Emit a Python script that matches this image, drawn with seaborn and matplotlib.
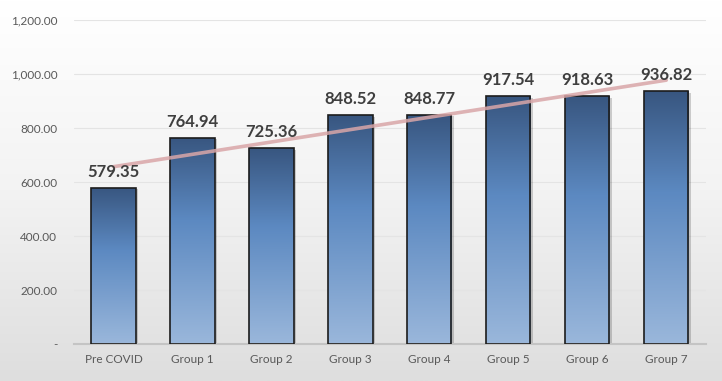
import numpy as np
import pandas as pd
import matplotlib.pyplot as plt
import matplotlib.transforms as mtransforms
from matplotlib.patches import Rectangle
from matplotlib.colors import LinearSegmentedColormap
import seaborn as sns

groups = ['Pre COVID', 'Group 1', 'Group 2', 'Group 3', 'Group 4', 'Group 5', 'Group 6', 'Group 7']
values = [579.35, 764.94, 725.36, 848.52, 848.77, 917.54, 918.63, 936.82]
yticks = [0, 200, 400, 600, 800, 1000, 1200]

sns.set_theme(style='white')
plt.rcParams['font.family'] = ['Lato', 'DejaVu Sans']

fig = plt.figure(figsize=(7.22, 3.81), dpi=100)

# soft grey background gradient
bg = fig.add_axes([0, 0, 1, 1], zorder=-1)
bgcmap = LinearSegmentedColormap.from_list('bg', ['#ffffff', '#f3f3f3', '#dedede'])
bg.imshow(np.linspace(0, 1, 200).reshape(-1, 1), cmap=bgcmap, aspect='auto', extent=[0, 1, 0, 1])
bg.axis('off')

ax = fig.add_axes([0.1025, 0.097, 0.875, 0.85])
ax.patch.set_alpha(0)

df = pd.DataFrame({'group': groups, 'value': values})
sns.barplot(data=df, x='group', y='value', ax=ax, width=0.56, color='#5886bf',
            edgecolor='#1c1c1c', linewidth=1.2, zorder=3)

barcmap = LinearSegmentedColormap.from_list('bar', [(0, '#9ab7db'), (0.6, '#5c89c1'), (1, '#385680')])
shadow_tr = mtransforms.offset_copy(ax.transData, fig=fig, x=2.5, y=-1.5, units='dots')
for bar in ax.patches:
    x, w, h = bar.get_x(), bar.get_width(), bar.get_height()
    ax.add_patch(Rectangle((x, 0), w, h, transform=shadow_tr, facecolor='#000000',
                           alpha=0.18, edgecolor='none', zorder=1))
    grad = np.linspace(0, 1, 256).reshape(-1, 1)
    im = ax.imshow(grad, cmap=barcmap, origin='lower', aspect='auto',
                   extent=[x, x + w, 0, h], zorder=2)
    im.set_clip_path(bar)
    bar.set_facecolor('none')

# linear trendline
sns.regplot(x=np.arange(len(values)), y=values, scatter=False, ci=None, truncate=True, ax=ax,
            color='#d9a6a8', line_kws={'lw': 2.6, 'zorder': 4, 'alpha': 0.85})

for i, v in enumerate(values):
    ax.text(i, v + 30, f'{v:.2f}', ha='center', va='bottom', fontsize=12,
            fontweight='bold', color='#3f3f3f', zorder=5)

ax.set_xlim(-0.5, 7.5)
ax.set_ylim(0, 1200)
ax.set_yticks(yticks)
ax.set_yticklabels(['-' if t == 0 else f'{t:,.2f}' for t in yticks])
ax.set_xlabel('')
ax.set_ylabel('')
ax.grid(axis='y', color='#e4e4e4', lw=0.8, zorder=0)
ax.set_axisbelow(True)
for s in ['top', 'right', 'left']:
    ax.spines[s].set_visible(False)
ax.spines['bottom'].set_color('#c4c4c4')
ax.spines['bottom'].set_linewidth(1.5)
ax.tick_params(axis='y', length=0, pad=12, labelsize=8.5, labelcolor='#595959')
ax.tick_params(axis='x', length=0, pad=7, labelsize=8.5, labelcolor='#595959')

fig.savefig('out.png', dpi=100)
